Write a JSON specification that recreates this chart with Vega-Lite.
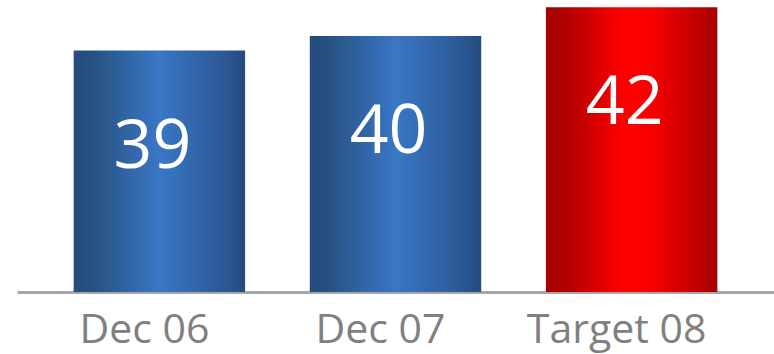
{
  "$schema": "https://vega.github.io/schema/vega-lite/v6.json",
  "width": 757,
  "height": 292,
  "autosize": {"type": "none"},
  "padding": {"left": 17, "top": 0, "right": 0, "bottom": 62},
  "background": "white",
  "config": {"view": {"stroke": null}, "font": "Open Sans"},
  "data": {
    "values": [
      {"period": "Dec 06", "value": 39, "kind": "actual"},
      {"period": "Dec 07", "value": 40, "kind": "actual"},
      {"period": "Target 08", "value": 42, "kind": "target"}
    ]
  },
  "encoding": {
    "x": {
      "field": "period",
      "type": "nominal",
      "sort": null,
      "scale": {"paddingInner": 0.274, "paddingOuter": 0.24},
      "axis": {
        "title": null,
        "ticks": false,
        "labelAngle": 0,
        "labelFont": "Open Sans",
        "labelFontSize": 41,
        "labelLimit": 400,
        "labelColor": "#808080",
        "labelPadding": 18,
        "labelOffset": -15,
        "domainColor": "#a6a6a6",
        "domainWidth": 3
      }
    },
    "y": {
      "field": "value",
      "type": "quantitative",
      "scale": {"domain": [22.27, 42.5], "zero": false, "nice": false},
      "axis": null
    }
  },
  "layer": [
    {
      "mark": {"type": "bar"},
      "encoding": {
        "y2": {"datum": 22.27},
        "color": {
          "condition": {
            "test": "datum.kind === 'target'",
            "value": {
              "gradient": "linear", "x1": 0, "x2": 1, "y1": 0, "y2": 0,
              "stops": [
                {"offset": 0, "color": "#a50000"},
                {"offset": 0.12, "color": "#b00000"},
                {"offset": 0.45, "color": "#ff0000"},
                {"offset": 0.6, "color": "#fb0000"},
                {"offset": 0.88, "color": "#c00000"},
                {"offset": 1, "color": "#a50000"}
              ]
            }
          },
          "value": {
            "gradient": "linear", "x1": 0, "x2": 1, "y1": 0, "y2": 0,
            "stops": [
              {"offset": 0, "color": "#264a7f"},
              {"offset": 0.1, "color": "#27507f"},
              {"offset": 0.5, "color": "#3a77c6"},
              {"offset": 0.9, "color": "#2a5792"},
              {"offset": 1, "color": "#264a7f"}
            ]
          }
        }
      }
    },
    {
      "mark": {
        "type": "text",
        "font": "Open Sans",
        "fontSize": 68,
        "color": "white",
        "baseline": "middle",
        "align": "center",
        "dy": 97,
        "dx": -7
      },
      "encoding": {"text": {"field": "value", "type": "quantitative"}}
    }
  ]
}
